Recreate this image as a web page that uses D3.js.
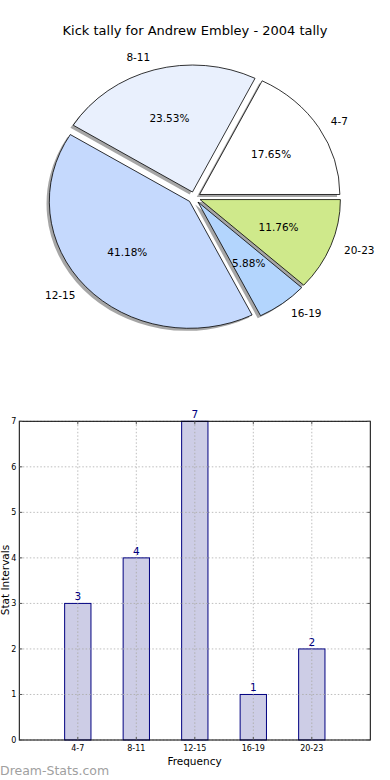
<!DOCTYPE html>
<html><head><meta charset="utf-8">
<script src="https://cdn.jsdelivr.net/npm/d3@7/dist/d3.min.js"></script>
<style>body{margin:0;background:#fff}svg{display:block;font-family:"DejaVu Sans",sans-serif}</style>
</head><body>
<svg id="c" width="390" height="780"></svg>
<script>
const categories = ["4-7","8-11","12-15","16-19","20-23"];
const values = [3,4,7,1,2];
const pieColors = ["#ffffff","#e9f0fd","#c5d9fd","#b3d5fd","#cfe98b"];
const yTicks = [0,1,2,3,4,5,6,7];
const title = "Kick tally for Andrew Embley - 2004 tally";

const svg = d3.select("#c");
svg.append("text").attr("x",195).attr("y",35).attr("text-anchor","middle")
  .attr("font-size",13).attr("fill","#000").text(title);

// ---- Pie (matplotlib style: start east, counter-clockwise, exploded, shadow) ----
const cx = 194.2, cy = 197.5, rx = 140.3, ry = 127, ex = 0.045;
const total = d3.sum(values);
const pie = d3.pie().sort(null).value(d=>d)(values);
const arc = d3.arc().innerRadius(0).outerRadius(1);
const pg = svg.append("g").attr("transform",`translate(${cx},${cy}) scale(${rx},${ry})`);
const wedges = pie.map((p,i)=>{
  const a0 = p.startAngle, a1 = p.endAngle, am = (a0+a1)/2;
  return {i, a0, a1, am, ox: ex*Math.cos(am), oy: -ex*Math.sin(am),
    d: arc({startAngle: Math.PI/2 - a0, endAngle: Math.PI/2 - a1})};
});
pg.selectAll("path.sh").data(wedges).join("path").attr("class","sh")
  .attr("transform",d=>`translate(${d.ox-0.02},${d.oy+0.02})`)
  .attr("d",d=>d.d).attr("fill","#4d4d4d").attr("fill-opacity",0.5);
pg.selectAll("path.w").data(wedges).join("path").attr("class","w")
  .attr("transform",d=>`translate(${d.ox},${d.oy})`)
  .attr("d",d=>d.d).attr("fill",d=>pieColors[d.i]).attr("stroke","#000")
  .attr("stroke-width",0.8).attr("vector-effect","non-scaling-stroke");
svg.selectAll("text.lab").data(wedges).join("text").attr("class","lab")
  .attr("x",d=>cx + rx*(ex*Math.cos(d.am) + 1.1*Math.cos(d.am)))
  .attr("y",d=>cy - ry*(ex*Math.sin(d.am) + 1.1*Math.sin(d.am)))
  .attr("dy","0.35em").attr("font-size",10.5)
  .attr("text-anchor",d=>Math.cos(d.am)>0?"start":"end")
  .text(d=>categories[d.i]);
svg.selectAll("text.pct").data(wedges).join("text").attr("class","pct")
  .attr("x",d=>cx + rx*(ex*Math.cos(d.am) + 0.6*Math.cos(d.am)))
  .attr("y",d=>cy - ry*(ex*Math.sin(d.am) + 0.6*Math.sin(d.am)))
  .attr("dy","0.35em").attr("font-size",10.5).attr("text-anchor","middle")
  .text(d=>(values[d.i]/total*100).toFixed(2)+"%");

// ---- Bar chart ----
const L=19.3, R=370.3, T=421.3, B=740;
const x = d3.scaleLinear().domain([0,6]).range([L,R]);
const y = d3.scaleLinear().domain([0,7]).range([B,T]);
const bg = svg.append("g");
const grid = bg.append("g").attr("stroke","#bdbdbd").attr("stroke-width",1).attr("stroke-dasharray","1.5,2");
yTicks.forEach(t=>grid.append("line").attr("x1",L).attr("x2",R).attr("y1",y(t)).attr("y2",y(t)));
categories.forEach((c,i)=>grid.append("line").attr("x1",x(i+1)).attr("x2",x(i+1)).attr("y1",T).attr("y2",B));
const bw = x(0.45)-x(0);
bg.selectAll("rect.bar").data(values).join("rect").attr("class","bar")
  .attr("x",(d,i)=>x(i+1)-bw/2).attr("width",bw)
  .attr("y",d=>y(d)).attr("height",d=>y(0)-y(d))
  .attr("fill","#cdcde6").attr("stroke","#000080").attr("stroke-width",1);
const grid2 = bg.append("g").attr("stroke","#b0b0b0").attr("stroke-width",1).attr("stroke-dasharray","1.5,2");
categories.forEach((c,i)=>grid2.append("line").attr("x1",x(i+1)).attr("x2",x(i+1)).attr("y1",y(values[i])).attr("y2",B));
values.forEach((v,i)=>{ for(const t of yTicks){ if(t>0 && t<v) grid2.append("line").attr("x1",x(i+1)-bw/2).attr("x2",x(i+1)+bw/2).attr("y1",y(t)).attr("y2",y(t)); } });
bg.selectAll("text.val").data(values).join("text").attr("class","val")
  .attr("x",(d,i)=>x(i+1)).attr("y",d=>y(d)-3).attr("text-anchor","middle")
  .attr("font-size",10.5).attr("fill","#000080").text(d=>d);
bg.append("rect").attr("x",L).attr("y",T).attr("width",R-L).attr("height",B-T)
  .attr("fill","none").attr("stroke","#000").attr("stroke-width",1);
const tk = bg.append("g").attr("stroke","#555").attr("stroke-width",1);
yTicks.forEach(t=>{
  tk.append("line").attr("x1",L).attr("x2",L+3).attr("y1",y(t)).attr("y2",y(t));
  tk.append("line").attr("x1",R-3).attr("x2",R).attr("y1",y(t)).attr("y2",y(t));
});
categories.forEach((c,i)=>{
  tk.append("line").attr("x1",x(i+1)).attr("x2",x(i+1)).attr("y1",B).attr("y2",B-3);
  tk.append("line").attr("x1",x(i+1)).attr("x2",x(i+1)).attr("y1",T).attr("y2",T+3);
});
bg.selectAll("text.yt").data(yTicks).join("text").attr("class","yt")
  .attr("x",L-3).attr("y",d=>y(d)).attr("dy","0.35em").attr("text-anchor","end")
  .attr("font-size",8).text(d=>d);
bg.selectAll("text.xt").data(categories).join("text").attr("class","xt")
  .attr("x",(d,i)=>x(i+1)).attr("y",B+11).attr("text-anchor","middle")
  .attr("font-size",8).text(d=>d);
svg.append("text").attr("x",194.5).attr("y",764.5).attr("text-anchor","middle")
  .attr("font-size",10.5).text("Frequency");
svg.append("text").attr("transform","translate(9,580) rotate(-90)").attr("text-anchor","middle")
  .attr("font-size",10.5).text("Stat Intervals");
svg.append("text").attr("x",0).attr("y",775).attr("font-size",12.5)
  .attr("fill","#a0a0a0").text("Dream-Stats.com");
</script>
</body></html>
